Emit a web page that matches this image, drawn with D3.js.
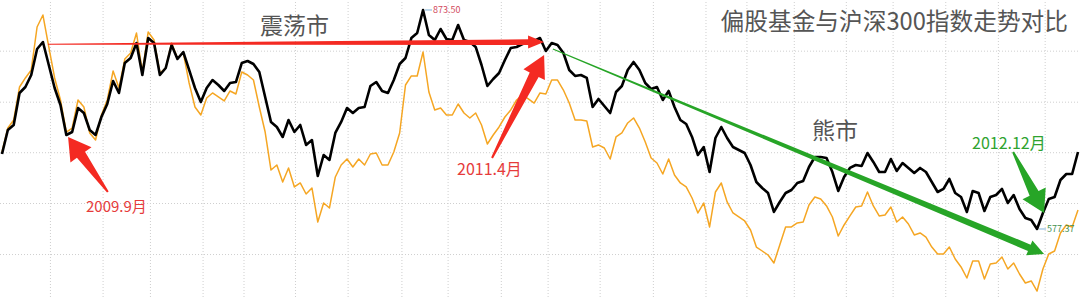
<!DOCTYPE html>
<html>
<head>
<meta charset="utf-8">
<script src="https://cdn.jsdelivr.net/npm/d3@7"></script>
<style>
  html, body { margin: 0; padding: 0; background: #fff; }
  svg { display: block; font-family: "Noto Sans CJK SC", "Noto Sans", sans-serif; }
</style>
</head>
<body>
<div id="chart"></div>
<script>
// weekly closes, 偏股基金指数 (black) and 沪深300 rescaled (orange)
const fund = [
  678.8, 711.2, 718.0, 761.3, 769.4, 785.6, 820.8, 830.2, 799.1, 768.0,
  745.0, 704.5, 708.5, 741.0, 734.2, 711.2, 704.5, 728.8, 746.4, 777.5,
  761.3, 801.8, 808.6, 828.9, 785.6, 835.6, 828.9, 785.6, 795.1, 826.2,
  807.2,
  816.7, 792.4, 768.0, 749.1, 768.0, 778.8, 772.1, 764.0, 774.8, 776.1,
  801.8, 804.5, 800.5, 789.7, 755.9, 722.1, 715.3, 701.8, 724.8, 708.5,
  718.0, 691.0, 697.7, 649.0, 677.4, 670.7, 707.2, 722.1, 741.0, 734.2,
  741.0,
  742.3, 770.7, 776.1, 764.0, 761.3, 778.8, 800.5, 808.6, 835.6, 842.4,
  873.5, 839.7, 832.9, 847.8, 834.3, 832.9, 853.2, 832.9, 830.2, 823.5,
  799.1, 770.7, 780.2, 788.3, 805.9, 822.1, 823.5, 827.5, 828.9, 831.6,
  835.6, 818.1, 828.9, 826.2, 815.4, 792.4, 784.3, 785.6, 781.6, 742.3,
  753.2, 743.7, 734.2, 762.6, 770.7, 792.4, 803.2, 792.4, 774.8, 766.7,
  769.4, 751.8, 764.0, 742.3, 724.8, 719.4, 701.8, 677.4, 688.2, 654.4,
  700.4, 715.3,
  700.4, 688.2, 684.2, 680.1, 663.9, 640.9, 632.8, 626.0, 600.4, 613.9,
  626.0, 630.1, 639.6, 642.3, 661.2, 674.7, 674.7, 673.4, 654.4, 628.8,
  647.7, 659.9, 663.9, 662.6, 680.1, 668.0, 654.4, 654.4, 672.0, 655.8,
  666.6, 659.9, 653.1, 659.9, 654.4, 640.9, 627.4, 631.5, 645.0, 626.0,
  620.6, 600.4, 628.8, 626.0, 601.7, 620.6, 623.3, 631.5, 612.5, 623.3,
  604.4, 592.2, 589.5, 577.37, 599.0, 617.9, 620.6, 643.6, 651.7, 651.7,
  681.5
];

const csi300 = [
  681.5, 713.9, 724.8, 769.4, 781.6, 792.4, 850.5, 866.7, 823.5, 781.6,
  751.8, 708.5, 713.9, 751.8, 742.3, 707.2, 697.7, 731.5, 751.8, 791.0,
  768.0, 807.2, 815.4, 842.4, 789.7, 843.8, 832.9, 788.3, 795.1, 828.9,
  808.6,
  815.4, 774.8, 742.3, 731.5, 754.5, 761.3, 755.9, 750.5, 764.0, 759.9,
  789.7, 785.6, 778.8, 742.3, 708.5, 657.1, 663.9, 640.9, 659.9, 634.2,
  639.6, 624.7, 632.8, 586.8, 612.5, 605.8, 647.7, 663.9, 672.0, 661.2,
  672.0,
  663.9, 678.8, 680.1, 663.9, 663.9, 681.5, 707.2, 772.1, 784.3, 784.3,
  816.7, 762.6, 738.3, 741.0, 731.5, 731.5, 746.4, 734.2, 727.5, 734.2,
  718.0, 692.3, 704.5, 715.3, 728.8, 738.3, 751.8, 758.6, 753.2, 747.7,
  761.3, 759.9, 778.8, 778.8, 765.3, 747.7, 724.8, 724.8, 723.4, 688.2,
  691.0, 686.9, 672.0, 701.8, 707.2, 720.7, 727.5, 713.9, 695.0, 673.4,
  666.6, 651.7, 672.0, 650.4, 639.6, 634.2, 619.3, 599.0, 612.5, 580.1,
  627.4, 639.6,
  613.9, 599.0, 593.6, 588.2, 576.0, 553.0, 547.6, 542.2, 531.4, 555.7,
  580.1, 580.1, 585.5, 586.8, 609.8, 620.6, 617.9, 608.5, 593.6, 567.9,
  582.8, 595.0, 607.1, 608.5, 627.4, 608.5, 595.0, 596.3, 607.1, 586.8,
  593.6, 584.1, 569.3, 572.0, 566.5, 553.0, 543.6, 543.6, 553.0, 536.8,
  526.0, 511.1, 534.1, 534.1, 509.8, 530.0, 531.4, 539.5, 523.3, 531.4,
  516.5, 504.3, 507.1, 493.5, 523.3, 543.6, 547.6, 572.0, 582.8, 580.1,
  603.1
];

// grid positions (week index / value)
const xGridTicks = [8.2, 17.2, 25.3, 34.3, 41.3, 50.1, 59.1, 68.3, 76.2, 85.3,
  93.3, 102.2, 111.3, 120.3, 127.3, 135.4, 144.3, 152.3, 161.3, 170.3, 178.3];
const yGridTicks = [543.5, 612.5, 681.2, 749.5, 818.5];

const title = '偏股基金与沪深300指数走势对比';

// annotation arrows: [week index, value]
const arrows = [
  { from: [7.87, 827.1], to: [92.7, 830.2], w0: 0.5, w1: 2.8, hl: 16, hw: 6.5, color: '#f42a22' },
  { from: [18.1, 627.4], to: [11.3, 701.8], w0: 1, w1: 5, hl: 22, hw: 13, color: '#f42a22' },
  { from: [83.8, 673.4], to: [92.7, 812.6], w0: 1, w1: 5, hl: 22, hw: 12, color: '#f42a22' },
  { from: [94.2, 820.8], to: [178.2, 543.5], w0: 0.5, w1: 3.5, hl: 16, hw: 8, color: '#27a527' },
  { from: [172.9, 681.5], to: [178.2, 599.0], w0: 1, w1: 5, hl: 22, hw: 13, color: '#27a527' }
];

const width = 1080;
const height = 297;

const svg = d3.select('#chart')
  .append('svg')
  .attr('width', width)
  .attr('height', height);

const xScale = d3.scaleLinear().domain([0, fund.length - 1]).range([2, 1078]);
const yScale = d3.scaleLinear().domain([485.4, 887.02]).range([height, 0]);

// dotted grid
svg.append('g')
  .attr('transform', `translate(0, ${height})`)
  .call(d3.axisBottom(xScale).tickValues(xGridTicks).tickFormat('').tickSize(-height))
  .call(g => g.select('.domain').remove())
  .selectAll('line')
  .attr('stroke', '#cfcfcf')
  .attr('stroke-dasharray', '1,2');

svg.append('g')
  .call(d3.axisLeft(yScale).tickValues(yGridTicks).tickFormat('').tickSize(-width))
  .call(g => g.select('.domain').remove())
  .selectAll('line')
  .attr('stroke', '#cfcfcf')
  .attr('stroke-dasharray', '1,2');

const line = d3.line()
  .x((d, i) => xScale(i))
  .y(d => yScale(d));

svg.append('path')
  .datum(csi300)
  .attr('fill', 'none')
  .attr('stroke', '#f5a623')
  .attr('stroke-width', 1.5)
  .attr('stroke-linejoin', 'round')
  .attr('d', line);

svg.append('path')
  .datum(fund)
  .attr('fill', 'none')
  .attr('stroke', '#000')
  .attr('stroke-width', 2.6)
  .attr('stroke-linejoin', 'round')
  .attr('d', line);

// tapered arrow polygon
function arrowPoints(a) {
  const x0 = xScale(a.from[0]), y0 = yScale(a.from[1]);
  const x1 = xScale(a.to[0]), y1 = yScale(a.to[1]);
  const L = Math.hypot(x1 - x0, y1 - y0);
  const ux = (x1 - x0) / L, uy = (y1 - y0) / L;
  const nx = -uy, ny = ux;
  const bx = x1 - ux * a.hl, by = y1 - uy * a.hl;
  return [
    [x0 + nx * a.w0, y0 + ny * a.w0],
    [bx + nx * a.w1, by + ny * a.w1],
    [bx + nx * a.hw, by + ny * a.hw],
    [x1, y1],
    [bx - nx * a.hw, by - ny * a.hw],
    [bx - nx * a.w1, by - ny * a.w1],
    [x0 - nx * a.w0, y0 - ny * a.w0]
  ].map(p => p.join(',')).join(' ');
}

svg.append('g')
  .selectAll('polygon')
  .data(arrows)
  .join('polygon')
  .attr('points', arrowPoints)
  .attr('fill', d => d.color);

// max / min markers
const iMax = d3.maxIndex(fund);
const iMin = d3.minIndex(fund);
const marks = [
  { i: iMax, v: fund[iMax], dy: 3, color: '#d24a5c' },
  { i: iMin, v: fund[iMin], dy: 3, color: '#3f8f4f' }
];
marks.forEach(m => {
  const x = xScale(m.i), y = yScale(m.v);
  svg.append('line')
    .attr('x1', x + 2).attr('x2', x + 9)
    .attr('y1', y).attr('y2', y)
    .attr('stroke', '#7fb2d6').attr('stroke-width', 1);
  svg.append('text')
    .attr('x', x + 10).attr('y', y + m.dy)
    .attr('font-size', 9)
    .attr('fill', m.color)
    .text(m.v.toFixed(2));
});

// texts
svg.append('text')
  .attr('x', 1068).attr('y', 30)
  .attr('text-anchor', 'end')
  .attr('font-size', 23.7)
  .attr('fill', '#555')
  .text(title);

svg.append('text')
  .attr('x', 260).attr('y', 34)
  .attr('font-size', 23)
  .attr('fill', '#555')
  .text('震荡市');

svg.append('text')
  .attr('x', 812).attr('y', 139)
  .attr('font-size', 23)
  .attr('fill', '#555')
  .text('熊市');

svg.append('text')
  .attr('x', 86).attr('y', 212)
  .attr('font-size', 15)
  .attr('fill', '#e63b3b')
  .text('2009.9月');

svg.append('text')
  .attr('x', 457).attr('y', 175)
  .attr('font-size', 16)
  .attr('fill', '#e63b3b')
  .text('2011.4月');

svg.append('text')
  .attr('x', 972).attr('y', 149)
  .attr('font-size', 16)
  .attr('fill', '#2fa32f')
  .text('2012.12月');
</script>
</body>
</html>
